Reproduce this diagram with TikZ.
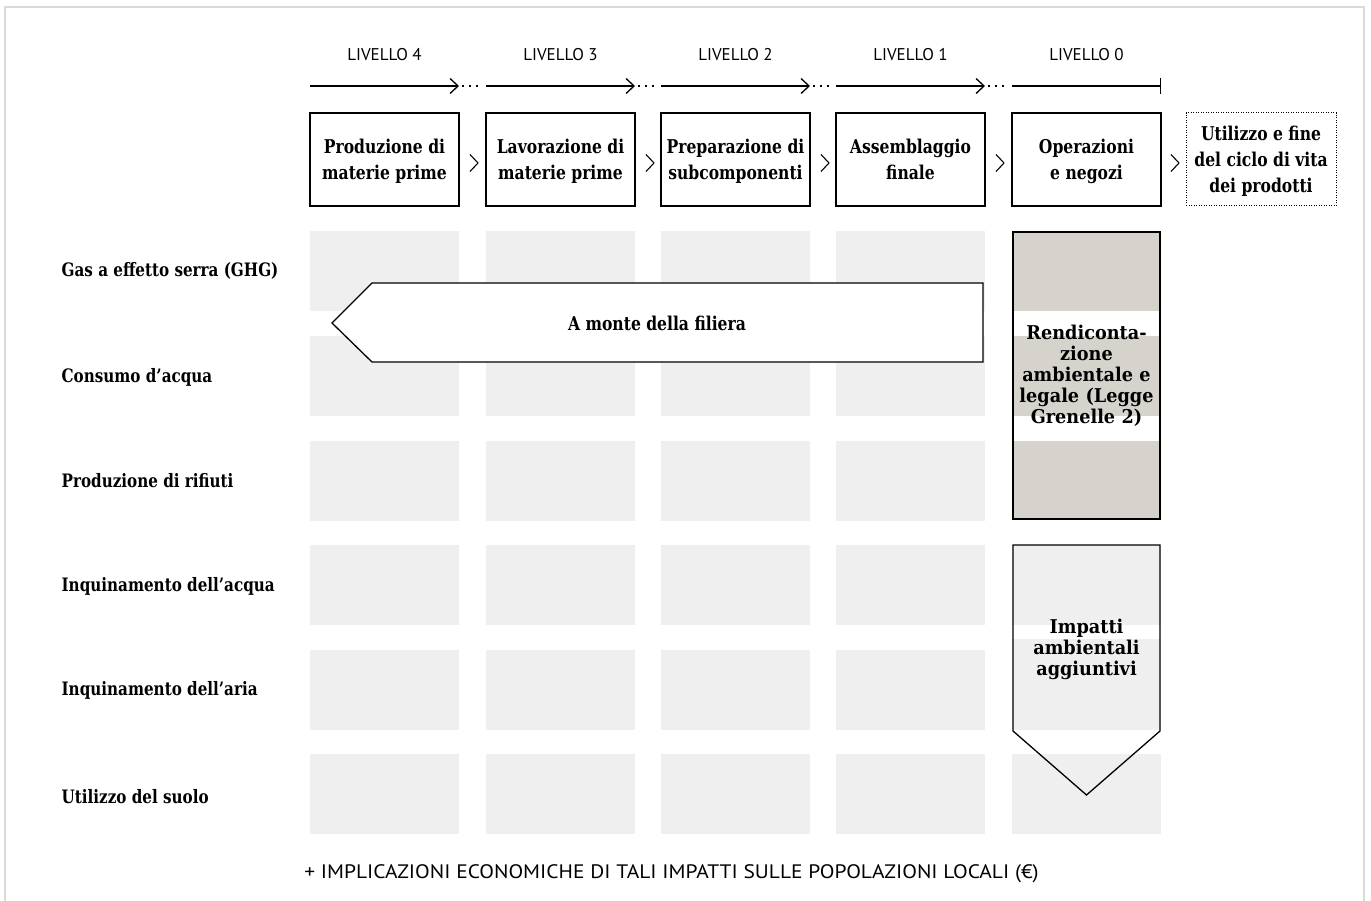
\documentclass[tikz,border=0pt]{standalone}
\usepackage{fontspec}
\setmainfont{DejaVu Serif}[FakeStretch=0.82]
\newfontfamily\wideserif{DejaVu Serif}[FakeStretch=0.93]
\newfontfamily\levelsans{PT Sans}
\newfontfamily\econsans{PT Sans}[FakeStretch=1.1]
\usetikzlibrary{calc,arrows.meta}
\definecolor{cellgray}{HTML}{EFEFEF}
\definecolor{reportgray}{HTML}{D6D3CC}
\definecolor{framegray}{HTML}{DCDAD4}
\newcommand{\tikzStageChevron}[2]{
  \coordinate (#1) at (#2);
  \path[draw,-,line width=1.1pt] (#1) -- ++(-8,-8.5) (#1) -- ++(-8,8.5);
}

\begin{document}
\begin{tikzpicture}[x=1pt, y=-1pt, line width=1.3pt,
  stage/.style={draw, fill=white, minimum width=149pt, minimum height=93pt, inner sep=0pt, text depth=0pt, align=center, font=\bfseries\fontsize{19}{26}\selectfont},
  rowlabel/.style={anchor=west, inner sep=0pt, font=\bfseries\fontsize{18.5}{23}\selectfont},
  level/.style={font=\levelsans\fontsize{17}{20}\selectfont},
  sidetext/.style={align=center, text width=146pt, inner sep=0pt, font=\wideserif\bfseries\fontsize{19}{21}\selectfont}]
  \useasboundingbox (0,0) rectangle (1371,901);
  \draw[framegray, line width=2pt] (5,901) -- (5,7) -- (1364,7) -- (1364,901);

  %grid of cells
  \foreach \cx in {310,486,661,836}
    \foreach \ry in {231,336,441,545,650,754}
      \fill[cellgray] (\cx,\ry) rectangle ++(149,80);
  \foreach \ry in {545,650,754}
    \fill[cellgray] (1012,\ry) rectangle ++(149,80);
  \fill[cellgray] (1012,639) rectangle (1161,650);
  \fill[reportgray] (1012,231) rectangle (1161,311);
  \fill[reportgray] (1012,336) rectangle (1161,416);
  \fill[reportgray] (1012,441) rectangle (1161,519);

  %levels
  \node[level] (lv4) at (384.5,55) {LIVELLO 4};
  \node[level] (lv3) at (560.5,55) {LIVELLO 3};
  \node[level] (lv2) at (735.5,55) {LIVELLO 2};
  \node[level] (lv1) at (910.5,55) {LIVELLO 1};
  \node[level] (lv0) at (1086.5,55) {LIVELLO 0};
  \foreach \i/\a/\b in {4/310/459,3/486/635,2/661/810,1/836/985,0/1012/1161} {
    \coordinate (ls\i) at (\a,86);
    \coordinate (le\i) at (\b,86);
  }
  \foreach \i/\j in {4/3,3/2,2/1,1/0} {
    \draw[-{Straight Barb[length=8pt,width=15pt]}] (ls\i) -- (le\i);
    \draw[dash pattern=on 1.8pt off 5.2pt, line width=1.8pt] ($(le\i)+(3,0)$) -- ($(ls\j)+(-5,0)$);
  }
  \draw[-{Bar[width=16pt]}] (ls0) -- (le0);

  %stages
  \node[stage] (raw)  at (384.5,159.5) {Produzione di\\materie prime};
  \node[stage] (proc) at (560.5,159.5) {Lavorazione di\\materie prime};
  \node[stage] (sub)  at (735.5,159.5) {Preparazione di\\subcomponenti};
  \node[stage] (asm)  at (910.5,159.5) {Assemblaggio\\finale};
  \node[stage] (ops)  at (1086.5,159.5) {Operazioni\\e negozi};
  \node[stage, minimum width=150pt, line width=1pt, dash pattern=on 1pt off 1.5pt] (use) at (1261,159.5) {Utilizzo e fine\\del ciclo di vita\\dei prodotti};
  \tikzStageChevron{ch1}{478,163}
  \tikzStageChevron{ch2}{654,163}
  \tikzStageChevron{ch3}{829,163}
  \tikzStageChevron{ch4}{1004,163}
  \tikzStageChevron{ch5}{1179,163}

  %impacts
  \node[rowlabel] (ghg)   at (61,271) {Gas a effetto serra (GHG)};
  \node[rowlabel] (water) at (61,377) {Consumo d’acqua};
  \node[rowlabel] (waste) at (61,481) {Produzione di rifiuti};
  \node[rowlabel] (wpoll) at (61,586) {Inquinamento dell’acqua};
  \node[rowlabel] (apoll) at (61,690) {Inquinamento dell’aria};
  \node[rowlabel] (soil)  at (61,797) {Utilizzo del suolo};

  \draw[fill=white] (983,283) -- (372,283) -- (332,323) -- (372,362) -- (983,362) -- cycle;
  \node[font=\bfseries\fontsize{19}{23}\selectfont] (upstream) at (657,323) {A monte della filiera};

  \node[draw, minimum width=147pt, minimum height=287pt] (report) at (1086.5,375.5) {};
  \node[sidetext] (reptext) at (report.center) {Rendiconta-\\zione\\ambientale e\\legale (Legge\\Grenelle 2)};

  \draw (1013,545) -- (1160,545) -- (1160,731) -- (1086.5,795) -- (1013,731) -- cycle;
  \node[sidetext] (extra) at (1086.5,649) {Impatti\\ambientali\\aggiuntivi};

  \node[font=\econsans\fontsize{19.5}{23}\selectfont] (econ) at (671.5,874) {+ IMPLICAZIONI ECONOMICHE DI TALI IMPATTI SULLE POPOLAZIONI LOCALI (€)};
\end{tikzpicture}
\end{document}
